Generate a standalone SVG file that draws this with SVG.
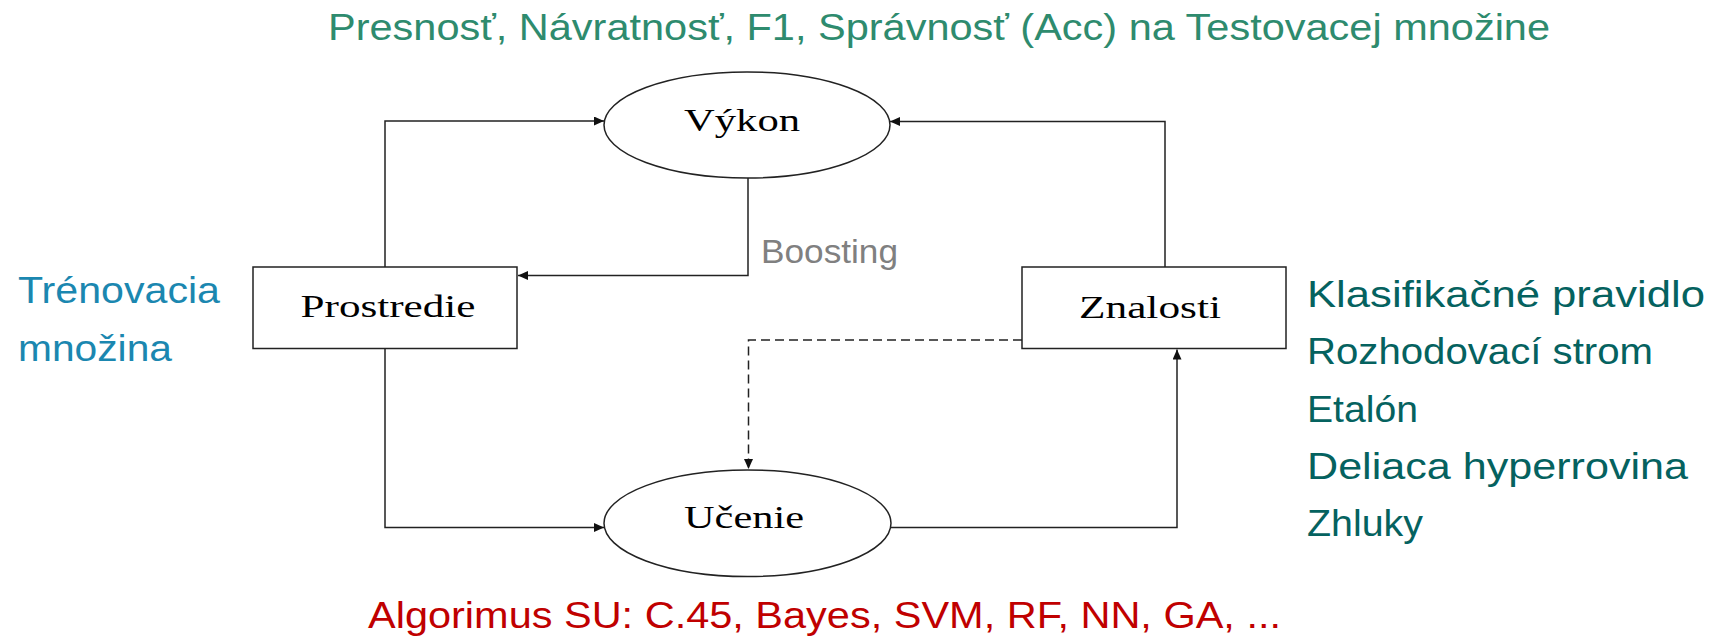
<svg xmlns="http://www.w3.org/2000/svg" width="1716" height="637" viewBox="0 0 1716 637">
<style>
.sans{font-family:"Liberation Sans",Arial,sans-serif;font-size:37px}
.serif{font-family:"Liberation Serif","Times New Roman",serif;font-size:32px;fill:#000;text-anchor:middle}
.shape{fill:#fff;stroke:#222;stroke-width:1.5}
.conn{fill:none;stroke:#222;stroke-width:1.5}
.dash{stroke-dasharray:9 5}
.title{fill:#2E8B6E}
.left{fill:#1B87B0}
.right{fill:#05625F}
.bottom{fill:#C00000}
.gray{fill:#808080;font-size:33px}
</style>
<defs>
<marker id="arr" markerUnits="userSpaceOnUse" markerWidth="12" markerHeight="10" refX="10" refY="4.5" orient="auto">
<path d="M0,0 L10,4.5 L0,9 Z" fill="#111"/>
</marker>
</defs>
<rect width="1716" height="637" fill="#fff"/>
<g id="connectors">
<path class="conn" d="M385,267 V121 H604" marker-end="url(#arr)"/>
<path class="conn" d="M748,178 V275.5 H518" marker-end="url(#arr)"/>
<path class="conn" d="M1165,267 V121.5 H890" marker-end="url(#arr)"/>
<path class="conn dash" d="M1022,340 H748.5 V469" marker-end="url(#arr)"/>
<path class="conn" d="M385,348.5 V527.5 H604" marker-end="url(#arr)"/>
<path class="conn" d="M891,527.5 H1177 V349.5" marker-end="url(#arr)"/>
</g>
<g id="vykon">
<ellipse class="shape" cx="747" cy="125" rx="143" ry="53"/>
<text class="serif" x="742" y="131" textLength="116" lengthAdjust="spacingAndGlyphs">Výkon</text>
</g>
<g id="prostredie">
<rect class="shape" x="253" y="267" width="264" height="81.5"/>
<text class="serif" x="388" y="317" textLength="175" lengthAdjust="spacingAndGlyphs">Prostredie</text>
</g>
<g id="znalosti">
<rect class="shape" x="1022" y="267" width="264" height="81.5"/>
<text class="serif" x="1150" y="318" textLength="142" lengthAdjust="spacingAndGlyphs">Znalosti</text>
</g>
<g id="ucenie">
<ellipse class="shape" cx="747.5" cy="523.3" rx="143.5" ry="53.3"/>
<text class="serif" x="744" y="528" textLength="120" lengthAdjust="spacingAndGlyphs">Učenie</text>
</g>
<g id="labels">
<text class="sans title" x="328" y="39.5" textLength="1222" lengthAdjust="spacingAndGlyphs">Presnosť, Návratnosť, F1, Správnosť (Acc) na Testovacej množine</text>
<text class="sans gray" x="761" y="262.7" textLength="137" lengthAdjust="spacingAndGlyphs">Boosting</text>
<text class="sans left" x="18" y="303" textLength="202" lengthAdjust="spacingAndGlyphs">Trénovacia</text>
<text class="sans left" x="18" y="360.5" textLength="154" lengthAdjust="spacingAndGlyphs">množina</text>
<text class="sans right" x="1307" y="306.7" textLength="398" lengthAdjust="spacingAndGlyphs">Klasifikačné pravidlo</text>
<text class="sans right" x="1307" y="363.5" textLength="346" lengthAdjust="spacingAndGlyphs">Rozhodovací strom</text>
<text class="sans right" x="1307" y="421.5" textLength="111" lengthAdjust="spacingAndGlyphs">Etalón</text>
<text class="sans right" x="1307" y="479" textLength="381" lengthAdjust="spacingAndGlyphs">Deliaca hyperrovina</text>
<text class="sans right" x="1307" y="536" textLength="116" lengthAdjust="spacingAndGlyphs">Zhluky</text>
<text class="sans bottom" x="368" y="627.5" textLength="913" lengthAdjust="spacingAndGlyphs">Algorimus SU: C.45, Bayes, SVM, RF, NN, GA, ...</text>
</g>
</svg>
